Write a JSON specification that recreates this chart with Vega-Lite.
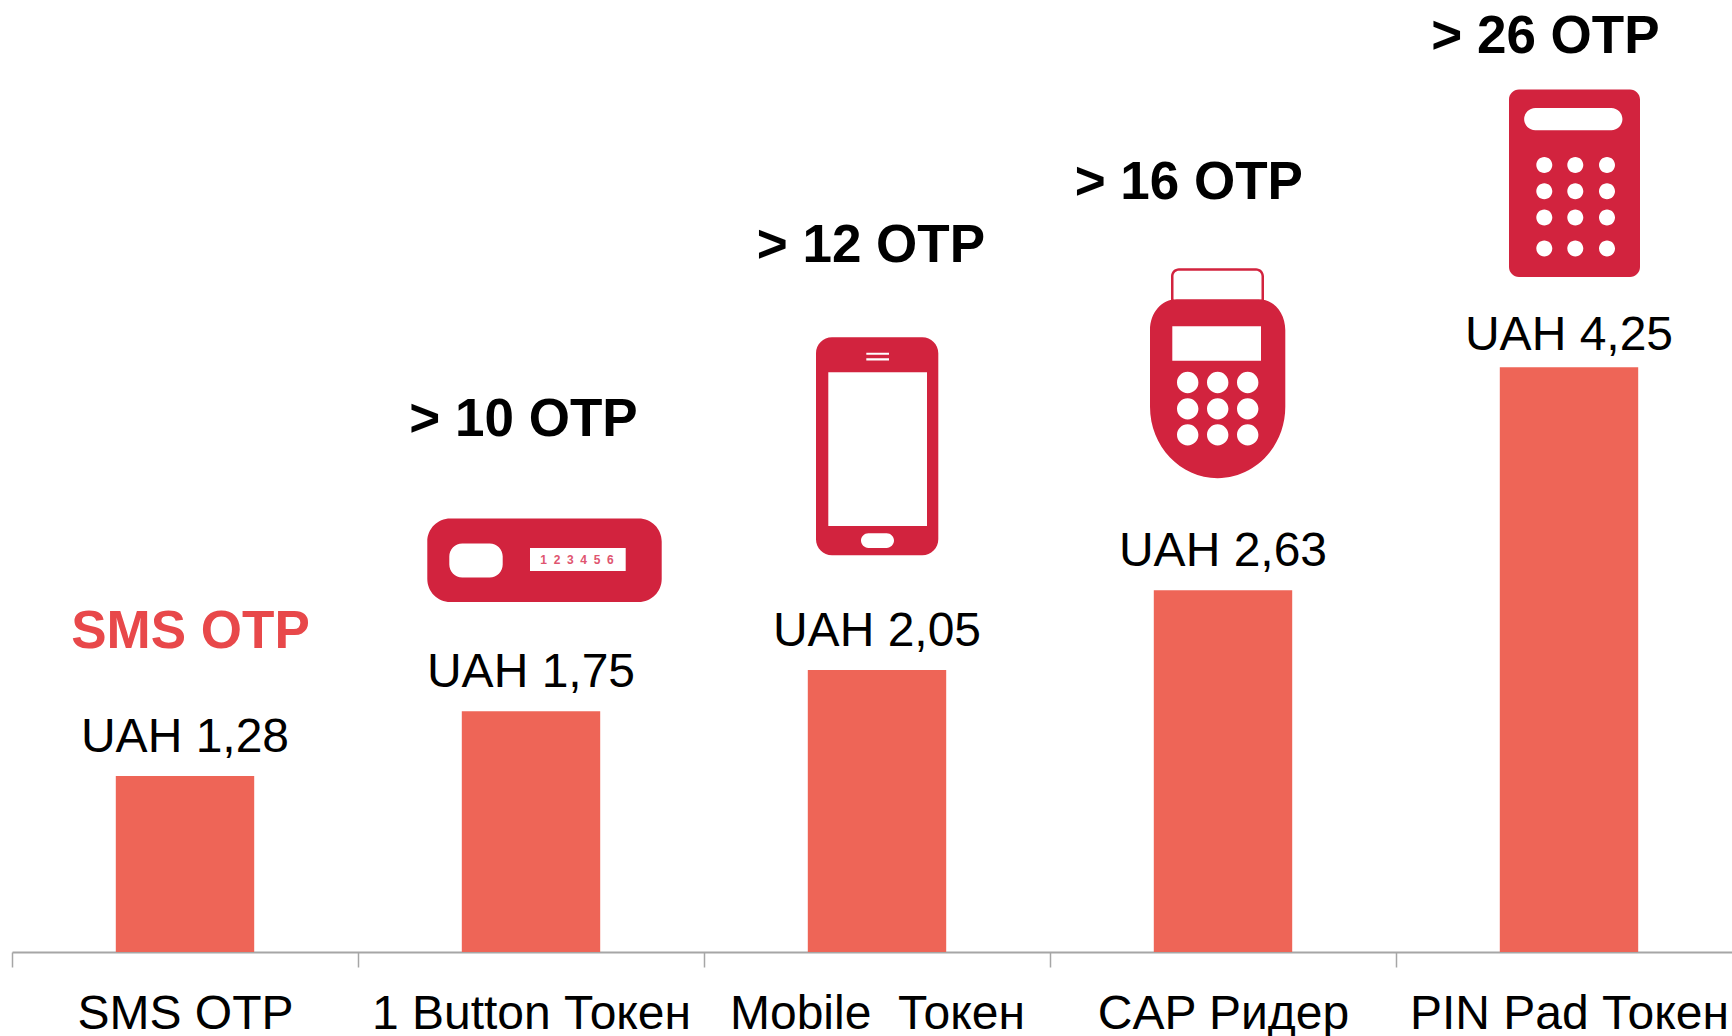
{
"$schema":"https://vega.github.io/schema/vega-lite/v6.json",
"width":1720,"height":952,
"autosize":{"type":"none"},
"padding":{"left":12,"top":0,"right":0,"bottom":84},
"background":"white",
"config":{"view":{"stroke":null},"text":{"font":"Liberation Sans"}},
"data":{"values":[
{"category":"SMS OTP","value":1.28,"label":"UAH 1,28","note":"SMS OTP"},
{"category":"1 Button Токен","value":1.75,"label":"UAH 1,75","note":"> 10 OTP","readout":"1\u00a0\u00a02\u00a0\u00a03\u00a0\u00a04\u00a0\u00a05\u00a0\u00a06"},
{"category":"Mobile\u00a0 Токен","value":2.05,"label":"UAH 2,05","note":"> 12 OTP"},
{"category":"CAP Ридер","value":2.63,"label":"UAH 2,63","note":"> 16 OTP"},
{"category":"PIN Pad Токен","value":4.25,"label":"UAH 4,25","note":"> 26 OTP"}
]},
"encoding":{
"x":{"field":"category","type":"nominal","sort":null,"title":null,
"scale":{"range":[0,1730],"paddingInner":0,"paddingOuter":0},
"axis":{"tickBand":"extent","tickSize":15,"tickColor":"#a6a6a6","tickWidth":1.5,"domainColor":"#a6a6a6","domainWidth":2,"labelAngle":0,"labelFont":"Liberation Sans","labelFontSize":48,"labelColor":"#000000","labelBaseline":"alphabetic","labelPadding":61,"labelLimit":0,"labelOverlap":false,"labelFlush":false,"grid":false}},
"y":{"field":"value","type":"quantitative","title":null,"axis":null,"scale":{"domain":[0,6.919],"nice":false,"zero":true}}
},
"layer":[
{"mark":{"type":"bar","color":"#EE6557","width":{"band":0.4}}},
{"transform":[{"filter":"datum.value < 4"}],"mark":{"type":"text","baseline":"alphabetic","fontSize":48,"color":"#000000","dy":-24},"encoding":{"text":{"field":"label"}}},
{"transform":[{"filter":"datum.value > 4"}],"mark":{"type":"text","baseline":"alphabetic","fontSize":48,"color":"#000000","dy":-17},"encoding":{"text":{"field":"label"}}},
{"transform":[{"filter":"datum.label == 'UAH 1,28'"}],"mark":{"type":"text","baseline":"alphabetic","fontSize":53,"fontWeight":"bold","color":"#E8484A","dx":5.5,"dy":-127.5},"encoding":{"text":{"field":"note"}}},
{"transform":[{"filter":"datum.label == 'UAH 1,75'"}],"mark":{"type":"text","baseline":"alphabetic","fontSize":53,"fontWeight":"bold","color":"#000000","dx":-7.5,"dy":-274.8},"encoding":{"text":{"field":"note"}}},
{"transform":[{"filter":"datum.label == 'UAH 2,05'"}],"mark":{"type":"text","baseline":"alphabetic","fontSize":53,"fontWeight":"bold","color":"#000000","dx":-6.1,"dy":-408.2},"encoding":{"text":{"field":"note"}}},
{"transform":[{"filter":"datum.label == 'UAH 2,63'"}],"mark":{"type":"text","baseline":"alphabetic","fontSize":53,"fontWeight":"bold","color":"#000000","dx":-34.2,"dy":-391.2},"encoding":{"text":{"field":"note"}}},
{"transform":[{"filter":"datum.label == 'UAH 4,25'"}],"mark":{"type":"text","baseline":"alphabetic","fontSize":53,"fontWeight":"bold","color":"#000000","dx":-23.6,"dy":-314.6},"encoding":{"text":{"field":"note"}}},
{"transform":[{"filter":"datum.label == 'UAH 1,75'"}],"mark":{"type":"point","filled":true,"opacity":1,"size":4,"color":"#D2233E","shape":"M-80.7 -192.7 L107.7 -192.7 A23 23 0 0 1 130.7 -169.7 L130.7 -132.3 A23 23 0 0 1 107.7 -109.3 L-80.7 -109.3 A23 23 0 0 1 -103.7 -132.3 L-103.7 -169.7 A23 23 0 0 1 -80.7 -192.7 Z M-68.7 -167.7 A13 13 0 0 0 -81.7 -154.7 L-81.7 -146.7 A13 13 0 0 0 -68.7 -133.7 L-41.3 -133.7 A13 13 0 0 0 -28.3 -146.7 L-28.3 -154.7 A13 13 0 0 0 -41.3 -167.7 Z M-1 -163.3 L-1 -140.3 L94.7 -140.3 L94.7 -163.3 Z"}},
{"transform":[{"filter":"datum.label == 'UAH 1,75'"}],"mark":{"type":"text","baseline":"alphabetic","fontSize":12,"fontWeight":"bold","color":"#E0556F","dx":46,"dy":-147.5},"encoding":{"text":{"field":"readout"}}},
{"transform":[{"filter":"datum.label == 'UAH 2,05'"}],"mark":{"type":"point","filled":true,"opacity":1,"size":4,"color":"#D2233E","shape":"M-45 -332.7 L45.3 -332.7 A16 16 0 0 1 61.3 -316.7 L61.3 -130.7 A16 16 0 0 1 45.3 -114.7 L-45 -114.7 A16 16 0 0 1 -61 -130.7 L-61 -316.7 A16 16 0 0 1 -45 -332.7 Z M-48.7 -297.7 L-48.7 -144 L50 -144 L50 -297.7 Z M-10.7 -317.3 L-10.7 -315.3 L12 -315.3 L12 -317.3 Z M-10.7 -311.7 L-10.7 -309.5 L12 -309.5 L12 -311.7 Z M-8.65 -136.7 A7.35 7.35 0 0 0 -8.65 -122 L9.65 -122 A7.35 7.35 0 0 0 9.65 -136.7 Z"}},
{"transform":[{"filter":"datum.label == 'UAH 2,63'"}],"mark":{"type":"point","filled":true,"opacity":1,"size":4,"color":"#D2233E","shape":"M-52 -288 L-52 -314 A8 8 0 0 1 -44 -322 L33 -322 A8 8 0 0 1 41 -314 L41 -288 L38.5 -288 L38.5 -314 A5.5 5.5 0 0 0 33 -319.5 L-44 -319.5 A5.5 5.5 0 0 0 -49.5 -314 L-49.5 -288 Z M-46.3 -291 L35.7 -291 C50 -291 62.3 -278 62.3 -260 L62.3 -183.3 A67.6 71.3 0 0 1 -73 -183.3 L-73 -260 C-73 -278 -61 -291 -46.3 -291 Z M-50.7 -264 L-50.7 -229.3 L38 -229.3 L38 -264 Z M-46 -207.7 A10.7 10.7 0 1 0 -24.6 -207.7 A10.7 10.7 0 1 0 -46 -207.7 Z M-16 -207.7 A10.7 10.7 0 1 0 5.4 -207.7 A10.7 10.7 0 1 0 -16 -207.7 Z M14 -207.7 A10.7 10.7 0 1 0 35.4 -207.7 A10.7 10.7 0 1 0 14 -207.7 Z M-46 -181.3 A10.7 10.7 0 1 0 -24.6 -181.3 A10.7 10.7 0 1 0 -46 -181.3 Z M-16 -181.3 A10.7 10.7 0 1 0 5.4 -181.3 A10.7 10.7 0 1 0 -16 -181.3 Z M14 -181.3 A10.7 10.7 0 1 0 35.4 -181.3 A10.7 10.7 0 1 0 14 -181.3 Z M-46 -155.3 A10.7 10.7 0 1 0 -24.6 -155.3 A10.7 10.7 0 1 0 -46 -155.3 Z M-16 -155.3 A10.7 10.7 0 1 0 5.4 -155.3 A10.7 10.7 0 1 0 -16 -155.3 Z M14 -155.3 A10.7 10.7 0 1 0 35.4 -155.3 A10.7 10.7 0 1 0 14 -155.3 Z"}},
{"transform":[{"filter":"datum.label == 'UAH 4,25'"}],"mark":{"type":"point","filled":true,"opacity":1,"size":4,"color":"#D2233E","shape":"M-50 -277.7 L61 -277.7 A10 10 0 0 1 71 -267.7 L71 -100.3 A10 10 0 0 1 61 -90.3 L-50 -90.3 A10 10 0 0 1 -60 -100.3 L-60 -267.7 A10 10 0 0 1 -50 -277.7 Z M-33.7 -259.3 A11.15 11.15 0 0 0 -33.7 -237 L42.3 -237 A11.15 11.15 0 0 0 42.3 -259.3 Z M-32.7 -202.3 A8 8 0 1 0 -16.7 -202.3 A8 8 0 1 0 -32.7 -202.3 Z M-1.7 -202.3 A8 8 0 1 0 14.3 -202.3 A8 8 0 1 0 -1.7 -202.3 Z M30 -202.3 A8 8 0 1 0 46 -202.3 A8 8 0 1 0 30 -202.3 Z M-32.7 -176 A8 8 0 1 0 -16.7 -176 A8 8 0 1 0 -32.7 -176 Z M-1.7 -176 A8 8 0 1 0 14.3 -176 A8 8 0 1 0 -1.7 -176 Z M30 -176 A8 8 0 1 0 46 -176 A8 8 0 1 0 30 -176 Z M-32.7 -149.7 A8 8 0 1 0 -16.7 -149.7 A8 8 0 1 0 -32.7 -149.7 Z M-1.7 -149.7 A8 8 0 1 0 14.3 -149.7 A8 8 0 1 0 -1.7 -149.7 Z M30 -149.7 A8 8 0 1 0 46 -149.7 A8 8 0 1 0 30 -149.7 Z M-32.7 -118.7 A8 8 0 1 0 -16.7 -118.7 A8 8 0 1 0 -32.7 -118.7 Z M-1.7 -118.7 A8 8 0 1 0 14.3 -118.7 A8 8 0 1 0 -1.7 -118.7 Z M30 -118.7 A8 8 0 1 0 46 -118.7 A8 8 0 1 0 30 -118.7 Z"}}
]
}
